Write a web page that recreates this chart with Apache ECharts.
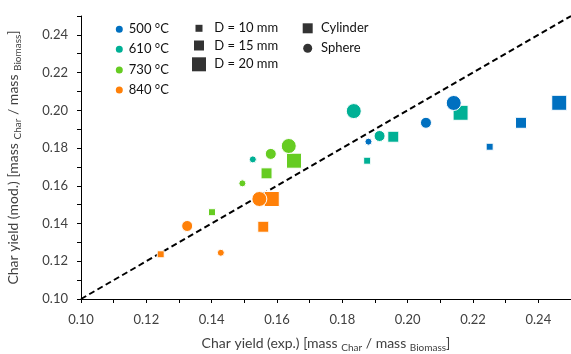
<!DOCTYPE html>
<html><head><meta charset="utf-8">
<script src="https://cdn.jsdelivr.net/npm/echarts@6/dist/echarts.min.js"></script>
<style>html,body{margin:0;padding:0;background:#fff}#c{width:571px;height:354px}</style>
</head><body><div id="c"></div>
<script>
// ---- data ----
const temps = ['500 °C', '610 °C', '730 °C', '840 °C'];
const tempColors = ['#0070C0', '#00B095', '#66CC22', '#FF8008'];
const sizeLabels = ['D = 10 mm', 'D = 15 mm', 'D = 20 mm'];
const shapeLabels = ['Cylinder', 'Sphere'];
// index order within each array: D = 10, 15, 20 mm
const cylExp = [
  [0.2251, 0.2347, 0.2464],
  [0.1876, 0.1956, 0.2162],
  [0.1401, 0.1568, 0.1652],
  [0.1244, 0.1558, 0.1584]
];
const cylMod = [
  [0.1807, 0.1934, 0.2040],
  [0.1733, 0.1860, 0.1987],
  [0.1460, 0.1666, 0.1733],
  [0.1237, 0.1383, 0.1530]
];
const sphExp = [
  [0.1880, 0.2056, 0.2141],
  [0.1526, 0.1914, 0.1835],
  [0.1494, 0.1581, 0.1636],
  [0.1428, 0.1325, 0.1546]
];
const sphMod = [
  [0.1834, 0.1934, 0.2039],
  [0.1740, 0.1864, 0.1996],
  [0.1613, 0.1769, 0.1811],
  [0.1245, 0.1387, 0.1530]
];
const parity = [0.10, 0.25];
const axisMin = 0.10, axisMax = 0.25, tickStep = 0.01;

// ---- styling ----
const FONT = 'Lato';
const markerSizes = [7, 11, 15];
const chart = echarts.init(document.getElementById('c'));

function pts(xs, ys) {
  return xs.map((x, i) => ({ value: [x, ys[i]], symbolSize: markerSizes[i] }));
}
const series = [];
series.push({
  type: 'line', name: 'parity', data: parity.map(v => [v, v]), showSymbol: false, silent: true,
  z: 1, lineStyle: { color: '#000', width: 2, type: [6, 3.5] }
});
temps.forEach((t, k) => series.push({
  type: 'scatter', name: t, symbol: 'rect', data: pts(cylExp[k], cylMod[k]), z: 2,
  itemStyle: { color: tempColors[k], borderColor: '#fff', borderWidth: 1, opacity: 1 }
}));
temps.forEach((t, k) => series.push({
  type: 'scatter', name: t, symbol: 'circle', data: pts(sphExp[k], sphMod[k]), z: 3,
  itemStyle: { color: tempColors[k], borderColor: '#fff', borderWidth: 1, opacity: 1 }
}));
sizeLabels.forEach(s => series.push({ type: 'scatter', name: s, symbol: 'rect', data: [], itemStyle: { color: '#000' } }));
series.push({ type: 'scatter', name: 'Cylinder', symbol: 'rect', data: [], itemStyle: { color: '#000' } });
series.push({ type: 'scatter', name: 'Sphere', symbol: 'circle', data: [], itemStyle: { color: '#000' } });

function leg(name, icon, w, cx, cy, textX) {
  const left = cx - w / 2;
  const pad = Math.max(0, textX - (left + w + 5));
  return {
    data: [{ name, icon }], left, top: cy - 8, itemWidth: w, itemHeight: w, padding: 0, itemGap: 0,
    selectedMode: false,
    textStyle: { fontFamily: FONT, fontSize: 13, color: '#111', lineHeight: 16, padding: [0, 0, 0, pad] }
  };
}
const legends = [];
const tempY = [29.3, 49.3, 70, 90];
temps.forEach((t, k) => legends.push(leg(t, 'circle', 9, 118.3, tempY[k], 127)));
const sizeW = [7, 10, 14], sizeY = [28.3, 45.5, 64.3];
sizeLabels.forEach((s, k) => legends.push(leg(s, 'rect', sizeW[k], 199, sizeY[k], 214.3)));
legends.push(leg('Cylinder', 'rect', 10, 307.7, 28.3, 321));
legends.push(leg('Sphere', 'circle', 9, 307.7, 48.3, 321));

const fmt = v => (Math.round(v * 100) % 2 === 0 ? v.toFixed(2) : '');
const nameRich = {
  sub: { fontFamily: FONT, fontSize: 10, color: '#404040', verticalAlign: 'bottom', lineHeight: 13 }
};
function axisCommon() {
  return {
    type: 'value', min: axisMin, max: axisMax, interval: tickStep,
    splitLine: { show: false },
    axisLine: { show: true, lineStyle: { color: '#000', width: 1 } },
    axisTick: { show: true, inside: false, length: 4, lineStyle: { color: '#000' } },
    axisLabel: { formatter: fmt, fontFamily: FONT, fontSize: 13, color: '#404040' },
    nameLocation: 'middle',
    nameTextStyle: { fontFamily: FONT, fontSize: 14, color: '#404040', lineHeight: 20, rich: nameRich }
  };
}
const xAxis = Object.assign(axisCommon(), {
  name: 'Char yield (exp.) [mass {sub|Char} / mass {sub|Biomass}]', nameGap: 34
});
xAxis.axisLabel.margin = 14;
const yAxis = Object.assign(axisCommon(), {
  name: 'Char yield (mod.) [mass {sub|Char} / mass {sub|Biomass}]', nameGap: 58, nameRotate: 90
});
yAxis.axisLabel.margin = 13;

chart.setOption({
  animation: false,
  backgroundColor: '#fff',
  grid: { left: 81, right: 0, top: 16, bottom: 55, containLabel: false, outerBoundsMode: 'none' },
  xAxis, yAxis, legend: legends, series
});
</script></body></html>
